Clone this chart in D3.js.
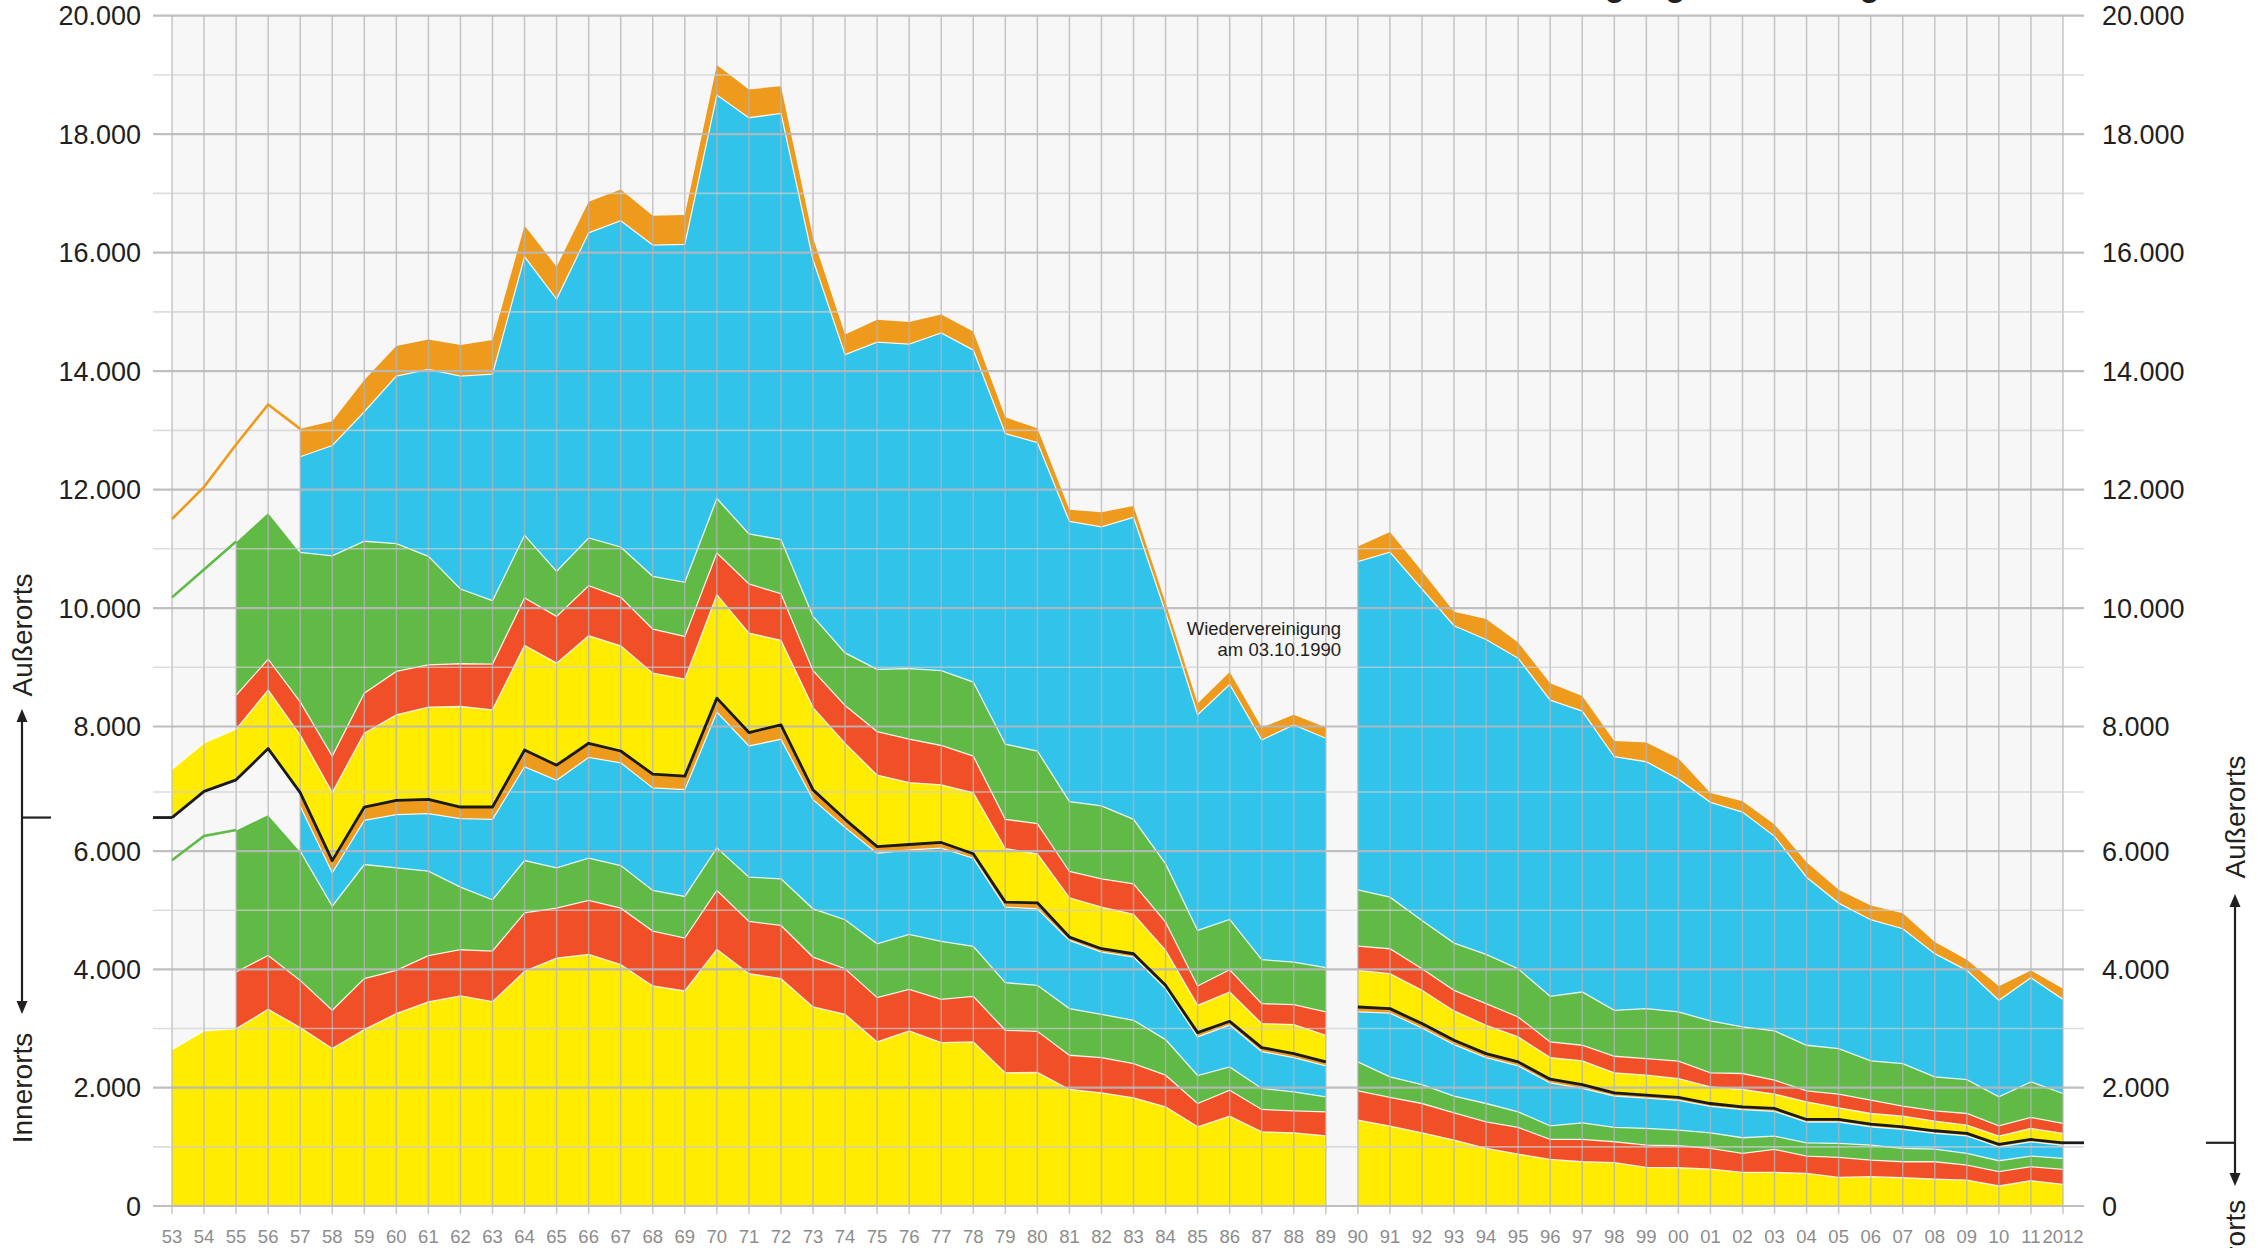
<!DOCTYPE html>
<html lang="de">
<head>
<meta charset="utf-8">
<title>Verkehrstote nach Verkehrsbeteiligung und Ortslage</title>
<script src="https://cdn.jsdelivr.net/npm/d3@7"></script>
<style>
  html, body { margin: 0; padding: 0; background: #fff; }
  svg { display: block; font-family: "Liberation Sans", Arial, Helvetica, sans-serif; }
</style>
</head>
<body>
<svg id="chart" width="2258" height="1248"></svg>
<script>
// Getötete 1953-2012
const years = d3.range(1953, 2013);

// innerorts
const fussInnerorts = [2645, 2960, 2994, 3326, 3016, 2662, 2983, 3253, 3450, 3551,
  3455, 3967, 4192, 4254, 4080, 3720, 3635, 4339, 3928, 3844,
  3365, 3241, 2774, 2960, 2763, 2774, 2251, 2257, 1970, 1913,
  1829, 1677, 1339, 1519, 1255, 1238, 1187, 1452, 1351, 1238,
  1114, 974, 878, 788, 748, 732, 653, 647, 625, 568,
  568, 551, 484, 495, 478, 456, 439, 338, 428, 366];
const radInnerorts = [null, null, 962, 911, 799, 647, 861, 731, 782, 782,
  856, 991, 845, 912, 957, 928, 895, 996, 883, 900,
  844, 771, 749, 703, 732, 771, 720, 697, 579, 597,
  580, 535, 394, 439, 377, 371, 406, 495, 484, 495,
  462, 450, 450, 337, 377, 354, 377, 372, 349, 321,
  389, 293, 338, 282, 270, 292, 253, 242, 236, 253];
const kradInnerorts = [null, null, 2402, 2383, 2185, 1761, 1930, 1733, 1429, 1058,
  866, 883, 680, 715, 720, 687, 704, 720, 749, 788,
  816, 828, 911, 929, 979, 844, 805, 777, 788, 731,
  731, 602, 473, 394, 355, 321, 253, 490, 348, 321,
  281, 309, 265, 231, 282, 242, 281, 264, 264, 265,
  225, 225, 236, 253, 226, 214, 197, 185, 180, 186];
const pkwInnerorts = [null, null, null, null, 760, 565, 747, 900, 973, 1158,
  1361, 1544, 1462, 1647, 1689, 1727, 1802, 2187, 2143, 2273,
  1845, 1560, 1531, 1429, 1576, 1491, 1277, 1294, 1154, 1053,
  1070, 861, 653, 708, 623, 580, 524, 844, 1077, 956,
  873, 777, 777, 724, 583, 532, 514, 502, 447, 476,
  418, 351, 362, 310, 321, 268, 296, 235, 241, 220];
const sonstInnerorts = [null, null, null, null, 230, 205, 225, 242, 242, 197,
  208, 256, 231, 216, 180, 210, 205, 237, 205, 223,
  162, 138, 111, 91, 97, 75, 85, 102, 56, 56,
  55, 56, 73, 63, 69, 67, 67, 84, 77, 74,
  72, 67, 67, 64, 64, 53, 49, 50, 48, 47,
  49, 43, 43, 44, 44, 42, 42, 41, 40, 44];
const innerortsGesamt = [6568, 7010, 7186, 7663, 6990, 5840, 6746, 6859, 6876, 6746,
  6746, 7641, 7410, 7744, 7626, 7272, 7241, 8479, 7908, 8028,
  7032, 6538, 6076, 6112, 6147, 5955, 5138, 5127, 4547, 4350,
  4265, 3731, 2932, 3123, 2679, 2577, 2437, 3365, 3337, 3084,
  2802, 2577, 2437, 2144, 2054, 1913, 1874, 1835, 1733, 1677,
  1649, 1463, 1463, 1384, 1339, 1272, 1227, 1041, 1125, 1069];

// außerorts
const fussAusserorts = [779, 739, 774, 951, 880, 1150, 1151, 1338, 1451, 1592,
  1536, 1728, 1660, 1788, 1737, 1629, 1559, 1746, 1669, 1426,
  1287, 1204, 1182, 1030, 963, 1031, 903, 827, 664, 703,
  665, 591, 461, 495, 405, 490, 450, 619, 591, 563,
  496, 479, 422, 366, 400, 338, 338, 320, 282, 293,
  242, 298, 197, 180, 180, 163, 140, 141, 186, 158];
const radAusserorts = [null, null, 568, 522, 545, 558, 666, 733, 715, 721,
  772, 800, 789, 845, 817, 744, 721, 705, 829, 788,
  624, 613, 665, 664, 600, 562, 497, 513, 445, 479,
  517, 478, 327, 377, 337, 338, 394, 411, 422, 365,
  349, 365, 337, 264, 264, 281, 281, 293, 236, 270,
  236, 186, 231, 226, 169, 174, 197, 174, 186, 169];
const kradAusserorts = [null, null, 2596, 2480, 2523, 3333, 2564, 2157, 1831, 1262,
  1070, 1059, 761, 806, 851, 890, 913, 918, 845, 913,
  914, 888, 1041, 1172, 1233, 1202, 1191, 1159, 1181, 1234,
  1091, 985, 939, 850, 743, 720, 748, 951, 872, 816,
  799, 833, 816, 771, 900, 777, 844, 833, 878, 788,
  833, 771, 771, 664, 721, 574, 574, 490, 602, 506];
const pkwAusserorts = [null, null, null, null, 1616, 1862, 2186, 2829, 3155, 3595,
  3826, 4702, 4595, 5152, 5507, 5592, 5704, 6812, 7026, 7195,
  6023, 5034, 5525, 5476, 5702, 5605, 5214, 5168, 4624, 4603,
  4994, 4140, 3540, 3865, 3630, 3903, 3792, 5439, 5722, 5494,
  5255, 5215, 5141, 4901, 4642, 4229, 4125, 3915, 3696, 3633,
  3290, 2842, 2459, 2386, 2279, 2083, 1846, 1632, 1760, 1592];
const sonstAusserorts = [null, null, null, null, 471, 412, 535, 506, 507, 523,
  573, 524, 546, 524, 529, 495, 496, 506, 478, 461,
  370, 340, 376, 376, 312, 312, 277, 241, 199, 248,
  191, 160, 191, 210, 190, 171, 164, 255, 338, 299,
  237, 345, 265, 283, 254, 241, 292, 317, 160, 181,
  200, 253, 225, 242, 264, 197, 180, 236, 125, 181];

// early years without full breakdown: running totals only
const fruehJahre = [1953, 1954, 1955];
const innerLinieFrueh = [5847, 6256, 6358];
const ausserLinieFrueh = [10180, 10650, 11124];
const gesamtJahre = [1953, 1954, 1955, 1956, 1957];
const gesamtLinieFrueh = [11503, 12045, 12760, 13437, 13025];

const yTicks = d3.range(0, 20001, 2000);
const yGrid = d3.range(0, 20001, 1000);

const colors = { fuss: '#ffec00', rad: '#f04f28', krad: '#61b946', pkw: '#31c3ea', sonst: '#ee9a1d' };
const innerKeys = ['fussI', 'radI', 'kradI', 'pkwI', 'sonstI'];
const outerKeys = ['fussA', 'radA', 'kradA', 'pkwA', 'sonstA'];
const segments = [[1953, 1989], [1990, 2012]];

const svg = d3.select('#chart');
const gridLeft = 153, gridRight = 2084;

const x = d3.scaleLinear().domain([1953, 2012]).range([172, 2063]);
// the printed grid is a little wider between 7.000 and 8.000
const y = d3.scaleLinear().domain([0, 7000, 8000, 20000]).range([1206, 792, 726.5, 15.7]);

const de = d3.formatLocale({ decimal: ',', thousands: '.', grouping: [3], currency: ['', ' €'] });
const fmt = de.format(',d');

const rows = years.map((year, i) => ({
  year,
  fussI: fussInnerorts[i], radI: radInnerorts[i], kradI: kradInnerorts[i],
  pkwI: pkwInnerorts[i], sonstI: sonstInnerorts[i],
  basis: innerortsGesamt[i],
  fussA: fussAusserorts[i], radA: radAusserorts[i], kradA: kradAusserorts[i],
  pkwA: pkwAusserorts[i], sonstA: sonstAusserorts[i],
}));

const stackOf = keys => d3.stack().keys(keys).value((d, k) => d[k] ?? 0)(rows);
const layers = [...stackOf(innerKeys), ...stackOf(['basis', ...outerKeys]).slice(1)];

svg.append('rect')
  .attr('x', x(1953)).attr('y', y(20000))
  .attr('width', x(2012) - x(1953)).attr('height', y(0) - y(20000))
  .attr('fill', '#f7f7f7');

const inSeg = ([a, b]) => d => d.data.year >= a && d.data.year <= b;
const area = d3.area().x(d => x(d.data.year)).y0(d => y(d[0])).y1(d => y(d[1]));
const edge = d3.line().x(d => x(d.data.year)).y(d => y(d[1]));

const gAreas = svg.append('g');
layers.forEach(s => {
  const color = colors[s.key.slice(0, -1)];
  const ok = d => d.data[s.key] != null;
  segments.forEach(seg => {
    gAreas.append('path')
      .datum(s.filter(inSeg(seg)))
      .attr('fill', color)
      .attr('d', area.defined(ok));
  });
});
layers.filter(s => s.key !== 'sonstA').forEach(s => {
  const ok = d => d.data[s.key] != null;
  segments.forEach(seg => {
    gAreas.append('path')
      .datum(s.filter(inSeg(seg)))
      .attr('fill', 'none')
      .attr('stroke', '#fff')
      .attr('stroke-opacity', 0.85)
      .attr('stroke-width', 1.3)
      .attr('d', edge.defined(ok));
  });
});

// grid
const gGrid = svg.append('g');
gGrid.selectAll('line.v').data(years).join('line')
  .attr('x1', d => x(d)).attr('x2', d => x(d))
  .attr('y1', y(20000)).attr('y2', y(0) + 8)
  .attr('stroke', '#b4b4b8').attr('stroke-opacity', 0.75).attr('stroke-width', 1.5);
gGrid.selectAll('line.h').data(yGrid).join('line')
  .attr('x1', gridLeft).attr('x2', gridRight)
  .attr('y1', d => y(d)).attr('y2', d => y(d))
  .attr('stroke', d => d % 2000 === 0 ? '#b8b8bc' : '#cfcfd2')
  .attr('stroke-opacity', d => d % 2000 === 0 ? 0.9 : 0.7)
  .attr('stroke-width', d => d % 2000 === 0 ? 2.2 : 1.6);

// innerorts / außerorts border
const black = d3.line().x(d => x(d.year)).y(d => y(d.basis));
segments.forEach(([a, b]) => {
  svg.append('path')
    .datum(rows.filter(d => d.year >= a && d.year <= b))
    .attr('fill', 'none').attr('stroke', '#1a1a1a').attr('stroke-width', 2.8)
    .attr('stroke-linejoin', 'round')
    .attr('d', black);
});
const yFirst = y(innerortsGesamt[0]), yLast = y(innerortsGesamt[innerortsGesamt.length - 1]);
svg.append('line').attr('x1', gridLeft).attr('x2', x(1953)).attr('y1', yFirst).attr('y2', yFirst)
  .attr('stroke', '#1a1a1a').attr('stroke-width', 2.8);
svg.append('line').attr('x1', x(2012)).attr('x2', gridRight).attr('y1', yLast).attr('y2', yLast)
  .attr('stroke', '#1a1a1a').attr('stroke-width', 2.8);

// early running totals
const pl = d3.line().x(d => x(d[0])).y(d => y(d[1]));
[[fruehJahre, innerLinieFrueh, colors.krad], [fruehJahre, ausserLinieFrueh, colors.krad],
 [gesamtJahre, gesamtLinieFrueh, colors.sonst]].forEach(([yrs, vals, c]) => {
  svg.append('path').datum(d3.zip(yrs, vals))
    .attr('fill', 'none').attr('stroke', c).attr('stroke-width', 2.6)
    .attr('d', pl);
});

// axes labels
svg.append('g').selectAll('text').data(yTicks).join('text')
  .attr('x', 141).attr('y', d => y(d)).attr('dy', '0.36em')
  .attr('text-anchor', 'end').attr('font-size', 27).attr('fill', '#231f20')
  .text(fmt);
svg.append('g').selectAll('text').data(yTicks).join('text')
  .attr('x', 2102).attr('y', d => y(d)).attr('dy', '0.36em')
  .attr('text-anchor', 'start').attr('font-size', 27).attr('fill', '#231f20')
  .text(fmt);
svg.append('g').selectAll('text').data(years).join('text')
  .attr('x', d => x(d)).attr('y', 1243)
  .attr('text-anchor', 'middle').attr('font-size', 18.5).attr('fill', '#8c8c8c')
  .text(d => d === 2012 ? '2012' : String(d).slice(2));

// annotation
const note = svg.append('text').attr('font-size', 18.5).attr('fill', '#231f20').attr('text-anchor', 'end');
note.append('tspan').attr('x', 1341).attr('y', 635).text('Wiedervereinigung');
note.append('tspan').attr('x', 1341).attr('y', 656).text('am 03.10.1990');

// side markers
function marker(ax, tickFrom, tickTo, yTick, top, bottom, upLabelY, downLabelY) {
  const g = svg.append('g').attr('fill', '#231f20').attr('stroke', '#231f20');
  g.append('line').attr('x1', ax).attr('x2', ax).attr('y1', top + 11).attr('y2', bottom - 11)
    .attr('stroke-width', 2.2);
  g.append('line').attr('x1', tickFrom).attr('x2', tickTo).attr('y1', yTick).attr('y2', yTick)
    .attr('stroke-width', 2.2);
  g.append('path').attr('stroke', 'none')
    .attr('d', `M${ax},${top}L${ax - 5.5},${top + 13}L${ax + 5.5},${top + 13}Z`);
  g.append('path').attr('stroke', 'none')
    .attr('d', `M${ax},${bottom}L${ax - 5.5},${bottom - 13}L${ax + 5.5},${bottom - 13}Z`);
  [['Außerorts', upLabelY], ['Innerorts', downLabelY]].forEach(([t, cy]) => {
    g.append('text').attr('stroke', 'none')
      .attr('transform', `translate(${ax + 10},${cy}) rotate(-90)`)
      .attr('text-anchor', 'middle').attr('font-size', 28).text(t);
  });
}
marker(22, 22, 51, yFirst, 709, 1014, 635, 1088);
marker(2235, 2206, 2235, yLast, 894, 1186, 817, 1255);

// title sits above the visible area, only descenders show
svg.append('text').attr('x', 1898).attr('y', -4.2)
  .attr('text-anchor', 'end').attr('font-size', 33).attr('font-weight', 'bold').attr('fill', '#231f20')
  .text('Verkehrstote nach Art der Verkehrsbeteiligung und Ortslage');
</script>
</body>
</html>
